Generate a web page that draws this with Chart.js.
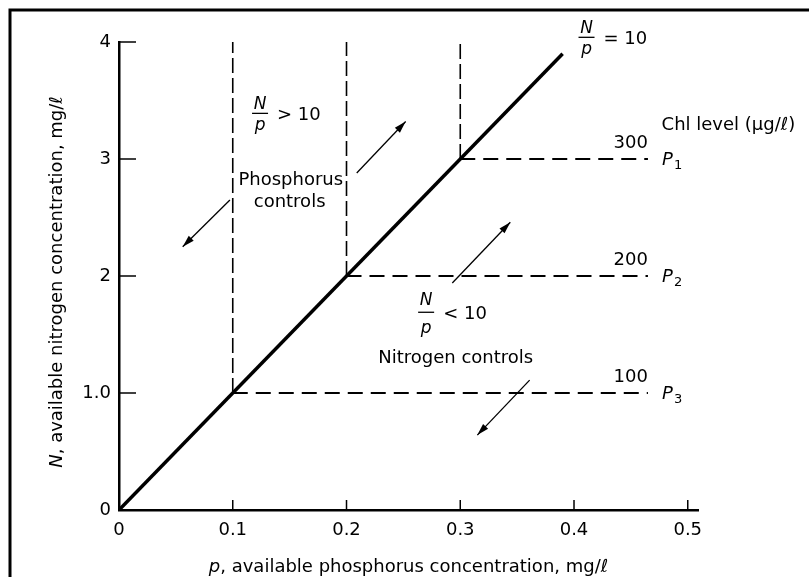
<!DOCTYPE html>
<html><head><meta charset="utf-8">
<script src="https://cdn.jsdelivr.net/npm/chart.js@4/dist/chart.umd.min.js"></script>
<style>html,body{margin:0;padding:0;background:#fff}#wrap{width:809px;height:577px}</style>
</head><body><div id="wrap"><canvas id="c" width="809" height="577"></canvas></div>
<script>
// ---- data ----
const xTicks = [0, 0.1, 0.2, 0.3, 0.4, 0.5];
const xTickLabels = ['0', '0.1', '0.2', '0.3', '0.4', '0.5'];
const yTicks = [0, 1, 2, 3, 4];
const yTickLabels = ['0', '1.0', '2', '3', '4'];
const ratioP = [0, 0.39];          // N/p = 10 line
const ratioN = [0, 3.9];
const kneeP = [0.1, 0.2, 0.3];     // P3, P2, P1 corners
const kneeN = [1, 2, 3];
const chlLevels = ['100', '200', '300'];
const chlSub = ['3', '2', '1'];
const dashTopN = 4;
const dashEndP = 0.465;
const arrowTailP = [0.0975, 0.209, 0.293, 0.361];
const arrowTailN = [2.65, 2.88, 1.94, 1.11];
const arrowHeadP = [0.056, 0.252, 0.344, 0.315];
const arrowHeadN = [2.25, 3.32, 2.46, 0.64];

const FONT = '"DejaVu Sans", sans-serif';

const datasets = [];
datasets.push({ data: ratioP.map((p, i) => ({ x: p, y: ratioN[i] })), borderColor: '#000', borderWidth: 3.5 });
kneeP.forEach((p, i) => {
  datasets.push({ data: [{ x: p, y: kneeN[i] }, { x: p, y: dashTopN }], borderColor: '#000', borderWidth: 1.6, borderDash: [15, 5] });
  datasets.push({ data: [{ x: p, y: kneeN[i] }, { x: dashEndP, y: kneeN[i] }], borderColor: '#000', borderWidth: 1.8, borderDash: [15, 8] });
});
arrowTailP.forEach((p, i) => {
  datasets.push({ data: [{ x: p, y: arrowTailN[i] }, { x: arrowHeadP[i], y: arrowHeadN[i] }], borderColor: '#000', borderWidth: 1.3, isArrow: true });
});
datasets.forEach(d => { d.showLine = true; d.pointRadius = 0; d.fill = false; d.tension = 0; });

function drawMixed(ctx, parts, x, y, align) {
  let w = 0;
  parts.forEach(([t, it]) => { ctx.font = (it ? 'italic ' : '') + '18px ' + FONT; w += ctx.measureText(t).width; });
  let cx = align === 'center' ? x - w / 2 : x;
  ctx.textAlign = 'left';
  parts.forEach(([t, it]) => { ctx.font = (it ? 'italic ' : '') + '18px ' + FONT; ctx.fillText(t, cx, y); cx += ctx.measureText(t).width; });
}

function fraction(ctx, x, y, rel, dn, dp) {
  ctx.fillStyle = '#000'; ctx.strokeStyle = '#000';
  ctx.textBaseline = 'middle'; ctx.textAlign = 'center';
  ctx.font = 'italic 17px ' + FONT;
  ctx.fillText('N', x, y - dn);
  ctx.fillText('p', x, y + dp);
  ctx.lineWidth = 1.3;
  ctx.beginPath(); ctx.moveTo(x - 8, y); ctx.lineTo(x + 8, y); ctx.stroke();
  ctx.textAlign = 'left';
  ctx.font = '18px ' + FONT;
  ctx.fillText(rel, x + 17, y + 2);
}

const decor = {
  id: 'decor',
  beforeDraw(chart) {
    const ctx = chart.ctx;
    ctx.save();
    ctx.fillStyle = '#fff'; ctx.fillRect(0, 0, chart.width, chart.height);
    ctx.strokeStyle = '#000'; ctx.lineWidth = 3;
    ctx.beginPath(); ctx.moveTo(10, 577); ctx.lineTo(10, 10); ctx.lineTo(809, 10); ctx.stroke();
    ctx.restore();
  },
  afterDraw(chart) {
    const ctx = chart.ctx, xs = chart.scales.x, ys = chart.scales.y, a = chart.chartArea;
    ctx.save();
    ctx.strokeStyle = '#000'; ctx.fillStyle = '#000';
    ctx.lineWidth = 1.5;
    xTicks.forEach(v => { if (v === 0) return; const px = xs.getPixelForValue(v); ctx.beginPath(); ctx.moveTo(px, a.bottom); ctx.lineTo(px, a.bottom - 10); ctx.stroke(); });
    yTicks.forEach(v => { if (v === 0) return; const py = ys.getPixelForValue(v); ctx.beginPath(); ctx.moveTo(a.left, py); ctx.lineTo(a.left + 17, py); ctx.stroke(); });
    chart.data.datasets.forEach(d => {
      if (!d.isArrow) return;
      const t = d.data[0], h = d.data[1];
      const tx = xs.getPixelForValue(t.x), ty = ys.getPixelForValue(t.y);
      const hx = xs.getPixelForValue(h.x), hy = ys.getPixelForValue(h.y);
      const L = Math.hypot(hx - tx, hy - ty), ux = (hx - tx) / L, uy = (hy - ty) / L;
      const bx = hx - ux * 12, by = hy - uy * 12;
      ctx.beginPath(); ctx.moveTo(hx, hy); ctx.lineTo(bx - uy * 3.5, by + ux * 3.5); ctx.lineTo(bx + uy * 3.5, by - ux * 3.5); ctx.closePath(); ctx.fill();
    });
    const X = v => xs.getPixelForValue(v), Y = v => ys.getPixelForValue(v);
    ctx.textBaseline = 'middle';
    ctx.font = '18px ' + FONT; ctx.textAlign = 'center';
    ctx.fillText('Phosphorus', X(0.151), Y(2.82));
    ctx.fillText('controls', X(0.150), Y(2.63));
    ctx.fillText('Nitrogen controls', X(0.296), Y(1.30));
    ctx.textAlign = 'left';
    ctx.fillText('Chl level (\u03bcg/\u2113)', X(0.477), Y(3.29));
    kneeN.forEach((n, i) => {
      ctx.font = '18px ' + FONT; ctx.textAlign = 'right';
      ctx.fillText(chlLevels[i], X(dashEndP), Y(n + 0.13));
      ctx.textAlign = 'left';
      ctx.font = 'italic 18px ' + FONT;
      ctx.fillText('P', X(dashEndP) + 14, Y(n) + 1);
      ctx.font = '13px ' + FONT;
      ctx.fillText(chlSub[i], X(dashEndP) + 26, Y(n) + 7);
    });
    fraction(ctx, X(0.411), Y(4.04), '= 10', 9, 12);
    fraction(ctx, X(0.124), Y(3.39), '> 10', 9, 12);
    fraction(ctx, X(0.270), Y(1.69), '< 10', 12, 16);
    ctx.textBaseline = 'middle';
    drawMixed(ctx, [['p', true], [', available phosphorus concentration, mg/\u2113', false]], (a.left + a.right) / 2, 567, 'center');
    ctx.save();
    ctx.translate(57, (a.top + a.bottom) / 2 + 6);
    ctx.rotate(-Math.PI / 2);
    drawMixed(ctx, [['N', true], [', available nitrogen concentration, mg/\u2113', false]], 0, 0, 'center');
    ctx.restore();
    ctx.restore();
  }
};

new Chart(document.getElementById('c'), {
  type: 'scatter',
  data: { datasets },
  options: {
    responsive: false, animation: false, devicePixelRatio: 1,
    layout: { padding: { top: 42, right: 111, left: 0, bottom: 0 } },
    plugins: { legend: { display: false }, tooltip: { enabled: false } },
    scales: {
      x: {
        type: 'linear', min: 0, max: 0.509,
        afterBuildTicks: s => { s.ticks = xTicks.map(v => ({ value: v })); },
        afterFit: s => { s.height = 67; },
        ticks: { callback: (v, i) => xTickLabels[i], font: { family: FONT, size: 18 }, color: '#000', padding: 10, maxRotation: 0, autoSkip: false },
        grid: { display: true, drawOnChartArea: false, drawTicks: false },
        border: { display: true, color: '#000', width: 2.5 }
      },
      y: {
        type: 'linear', min: 0, max: 4,
        afterBuildTicks: s => { s.ticks = yTicks.map(v => ({ value: v })); },
        afterFit: s => { s.width = 119; },
        ticks: { callback: (v, i) => yTickLabels[i], font: { family: FONT, size: 18 }, color: '#000', padding: 8, autoSkip: false },
        grid: { display: true, drawOnChartArea: false, drawTicks: false },
        border: { display: true, color: '#000', width: 2.5 }
      }
    }
  },
  plugins: [decor]
});
</script>
</body></html>
